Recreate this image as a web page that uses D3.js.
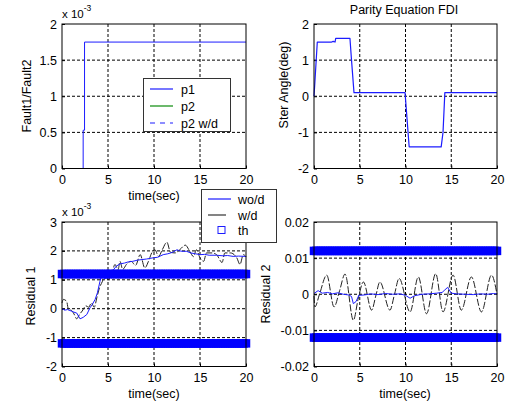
<!DOCTYPE html>
<html><head><meta charset="utf-8">
<script src="https://cdn.jsdelivr.net/npm/d3@7"></script>
<style>
body{margin:0;background:#fff;}
text{font-family:"Liberation Sans",Arial,Helvetica,sans-serif;fill:#000;}
</style></head>
<body>
<svg id="c" width="510" height="407"></svg>
<script>
// ---- data ----
const xTicks = [0, 5, 10, 15, 20];
// top-left: Fault1/Fault2 (x 1e-3)
const p1T = [0, 2.3, 2.3, 2.45, 2.45, 20];
const p1V = [0, 0, 0.53, 0.53, 1.75, 1.75];
const p2T = [0, 20];
const p2V = [0, 0];
const p2wdT = [0, 20];
const p2wdV = [0, 0];
const tlYTicks = [0, 0.5, 1, 1.5, 2];
const tlYLabels = ["0", "0.5", "1", "1.5", "2"];
// top-right: steering angle (deg)
const sterT = [0, 0.1, 0.36, 1.93, 2.1, 2.3, 2.37, 3.93, 4.1, 4.37, 9.95, 10.4, 13.9, 14.1, 14.3, 20];
const sterV = [0, 0.4, 1.5, 1.5, 1.52, 1.5, 1.6, 1.6, 1.0, 0.1, 0.1, -1.4, -1.4, -1.0, 0.1, 0.1];
const trYTicks = [-2, -1, 0, 1, 2];
// bottom-left: residual 1 (x 1e-3)
const r1woT = [0, 0.3, 0.6, 1.0, 1.3, 1.6, 1.96, 2.3, 2.7, 3.04, 3.3, 3.6, 3.85, 4.13, 4.3, 4.6, 4.8, 5.2, 5.6, 5.9, 6.3, 6.8, 7.2, 7.7, 8.2, 8.7, 9.2, 9.9, 10.4, 11.0, 11.5, 12.0, 12.5, 12.8, 13.2, 13.5, 14.0, 14.5, 15.0, 15.5, 16.0, 16.8, 17.5, 18.0, 18.6, 19.2, 19.9, 20];
const r1woV = [0, -0.05, -0.03, -0.08, -0.12, -0.15, -0.35, -0.3, -0.2, 0.03, 0.15, 0.32, 0.55, 0.95, 1.13, 1.05, 1.06, 1.2, 1.35, 1.47, 1.55, 1.58, 1.62, 1.64, 1.68, 1.7, 1.72, 1.76, 1.78, 1.87, 1.9, 1.95, 2.04, 2.0, 1.98, 1.99, 1.93, 1.9, 1.87, 1.88, 1.85, 1.85, 1.83, 1.84, 1.81, 1.82, 1.81, 1.8];
const r1wdT = [0, 0.15, 0.5, 0.7, 1.0, 1.3, 1.6, 1.9, 2.2, 2.6, 2.9, 3.2, 3.5, 3.8, 4.1, 4.4, 4.7, 5.0, 5.4, 5.76, 6.1, 6.3, 6.6, 7.0, 7.5, 8.0, 8.5, 9.0, 9.4, 9.75, 10.1, 10.5, 10.9, 11.4, 11.8, 12.3, 12.8, 13.4, 13.9, 14.3, 14.6, 15.0, 15.4, 15.7, 16.3, 16.8, 17.4, 17.7, 18.3, 19.0, 19.35, 19.7, 20];
const r1wdV = [0.2, 0.32, 0.26, -0.02, -0.05, -0.18, -0.35, -0.2, -0.08, 0.1, 0.05, 0.2, 0.05, 0.4, 0.75, 0.95, 1.25, 1.0, 1.2, 1.53, 1.35, 1.64, 1.36, 1.53, 1.64, 1.5, 1.87, 1.41, 1.64, 1.93, 2.04, 1.81, 2.04, 2.3, 1.95, 1.93, 2.04, 2.2, 1.98, 1.8, 2.04, 1.76, 1.64, 1.93, 1.93, 1.87, 1.6, 1.93, 1.93, 1.76, 1.53, 1.87, 1.8];
const r1Th = [1.2, -1.2];
const blYTicks = [-2, -1, 0, 1, 2, 3];
// bottom-right: residual 2
const r2woT = [0, 0.45, 0.9, 1.5, 2.0, 2.6, 3.2, 3.8, 4.1, 4.3, 4.6, 4.9, 5.5, 6.2, 7.0, 7.8, 8.6, 9.4, 10.0, 10.5, 11.0, 11.8, 12.6, 13.4, 14.0, 14.3, 14.6, 15.0, 15.6, 16.5, 17.4, 18.2, 19.0, 19.6, 20];
const r2woV = [0.0002, 0.001, 0.0003, 0.0005, 0.0001, 0.0004, 0, -0.0002, -0.0006, -0.0026, -0.002, -0.0003, -0.0002, 0.0001, -0.0001, 0.0002, 0, 0.0001, -0.0003, -0.0011, -0.0004, 0, 0.0001, 0.0003, 0.0005, 0.0012, 0.0019, 0.0003, 0.0001, 0, -0.0001, 0.0001, 0, 0.0002, 0.0001];
const r2wdT = [0, 0.1, 0.6, 1.39, 2.19, 2.8, 3.39, 4.3, 4.85, 5.4, 6.3, 6.75, 7.2, 8.3, 8.8, 9.3, 10.5, 11.4, 12.3, 13.3, 14.1, 15.2, 16.1, 17.2, 18.3, 19.4, 20];
const r2wdV = [-0.0005, -0.0035, 0, 0.0053, -0.0035, 0.001, 0.0056, -0.0072, -0.001, 0.0034, -0.0044, -0.0005, 0.0034, -0.0044, 0, 0.0044, -0.0049, 0.0048, -0.0054, 0.0057, -0.0049, 0.0053, -0.0044, 0.0048, -0.0049, 0.0053, 0];
const r2Th = [0.012, -0.012];
const brYTicks = [-0.02, -0.01, 0, 0.01, 0.02];
const brYLabels = ["-0.02", "-0.01", "0", "0.01", "0.02"];

// ---- drawing ----
const svg = d3.select("#c");
const BLUE = "#1c1cff", BAND = "#0000ff", GREEN = "#0a8a0a";
const FS = 12.5;

function panel(o) {
  const x = d3.scaleLinear().domain([0, 20]).range([o.x0, o.x1]);
  const y = d3.scaleLinear().domain(o.yDom).range([o.y1, o.y0]);
  const g = svg.append("g");
  xTicks.slice(1, -1).forEach(t => g.append("line").attr("x1", x(t)).attr("x2", x(t)).attr("y1", o.y0).attr("y2", o.y1)
    .attr("stroke", "#000").attr("stroke-width", 1).attr("stroke-dasharray", "3,2"));
  o.yTicks.slice(1, -1).forEach(t => g.append("line").attr("x1", o.x0).attr("x2", o.x1).attr("y1", y(t)).attr("y2", y(t))
    .attr("stroke", "#000").attr("stroke-width", 1).attr("stroke-dasharray", "3,2"));
  const ax = d3.axisBottom(x).tickValues(xTicks).tickSize(-3).tickPadding(6).tickFormat(d3.format("d"));
  const gx = g.append("g").attr("transform", `translate(0,${o.y1})`).call(ax);
  const ay = d3.axisLeft(y).tickValues(o.yTicks).tickSize(-3).tickPadding(5).tickFormat((d, i) => o.yLabels[i]);
  const gy = g.append("g").attr("transform", `translate(${o.x0},0)`).call(ay);
  [gx, gy].forEach(a => {
    a.select(".domain").remove();
    a.selectAll("text").attr("font-family", "Liberation Sans, Arial, sans-serif").attr("font-size", FS).attr("fill", "#000");
    a.selectAll("line").attr("stroke", "#000");
  });
  gx.selectAll("text").attr("dy", "0.72em");
  return {x, y, g};
}

function box(p, o) {
  svg.append("rect").attr("x", o.x0).attr("y", o.y0).attr("width", o.x1 - o.x0).attr("height", o.y1 - o.y0)
    .attr("fill", "none").attr("stroke", "#000").attr("stroke-width", 1);
}

function line(p, T, V, color, opts = {}) {
  const gen = d3.line().x(d => p.x(d[0])).y(d => p.y(d[1])).curve(opts.curve || d3.curveLinear);
  svg.append("path").datum(T.map((t, i) => [t, V[i]])).attr("d", gen)
    .attr("fill", "none").attr("stroke", color).attr("stroke-width", opts.w || 1)
    .attr("stroke-dasharray", opts.dash || null).attr("stroke-linejoin", "round");
}

function threshold(p, val) {
  const pts = d3.range(0, 20.0001, 0.25);
  svg.append("g").selectAll("rect").data(pts).join("rect")
    .attr("x", d => p.x(d) - 4.25).attr("y", p.y(val) - 4.25).attr("width", 8.5).attr("height", 8.5)
    .attr("fill", BAND);
}

function ylabel(text, x, y) {
  svg.append("text").attr("transform", `translate(${x},${y}) rotate(-90)`).attr("text-anchor", "middle")
    .attr("font-size", FS).text(text);
}
function xlabel(text, x, y) {
  svg.append("text").attr("x", x).attr("y", y).attr("text-anchor", "middle").attr("font-size", FS).text(text);
}
function exponent(x, y) {
  const t = svg.append("text").attr("x", x).attr("y", y).attr("font-size", 11.5);
  t.append("tspan").text("x 10");
  t.append("tspan").attr("dy", -7).attr("font-size", 8.5).text("-3");
}

// top-left
const oTL = {x0: 62, x1: 246, y0: 24, y1: 168.5, yDom: [0, 2], yTicks: tlYTicks, yLabels: tlYLabels};
const pTL = panel(oTL);
line(pTL, p2T, p2V, GREEN, {w: 1.2});
line(pTL, p2wdT, p2wdV, BLUE, {dash: "6,5"});
line(pTL, p1T, p1V, BLUE);
box(pTL, oTL);
exponent(62, 18);
ylabel("Fault1/Fault2", 31, 96);
xlabel("time(sec)", 154, 200);

// top-right
const oTR = {x0: 314, x1: 497, y0: 24, y1: 168.5, yDom: [-2, 2], yTicks: trYTicks, yLabels: trYTicks.map(String)};
const pTR = panel(oTR);
line(pTR, sterT, sterV, BLUE, {w: 1.2});
box(pTR, oTR);
ylabel("Ster Angle(deg)", 288, 85);
svg.append("text").attr("x", 404).attr("y", 14).attr("text-anchor", "middle").attr("font-size", FS).text("Parity Equation FDI");

// bottom-left
const oBL = {x0: 62, x1: 246, y0: 222, y1: 366.5, yDom: [-2, 3], yTicks: blYTicks, yLabels: blYTicks.map(String)};
const pBL = panel(oBL);
line(pBL, r1wdT, r1wdV, "#222", {curve: d3.curveMonotoneX, dash: "7,2"});
line(pBL, r1woT, r1woV, BLUE);
r1Th.forEach(v => threshold(pBL, v));
box(pBL, oBL);
exponent(62, 216);
ylabel("Residual 1", 35, 296);
xlabel("time(sec)", 154, 398);

// bottom-right
const oBR = {x0: 314, x1: 497, y0: 222, y1: 366.5, yDom: [-0.02, 0.02], yTicks: brYTicks, yLabels: brYLabels};
const pBR = panel(oBR);
line(pBR, r2wdT, r2wdV, "#222", {curve: d3.curveMonotoneX, dash: "7,2"});
line(pBR, r2woT, r2woV, BLUE);
r2Th.forEach(v => threshold(pBR, v));
box(pBR, oBR);
ylabel("Residual 2", 270, 294);
xlabel("time(sec)", 405, 398);

// legend 1
const lg1 = svg.append("g");
lg1.append("rect").attr("x", 143.5).attr("y", 78.5).attr("width", 87).attr("height", 53).attr("fill", "#fff").attr("stroke", "#333");
const lg1Items = [{n: "p1", c: BLUE, d: null}, {n: "p2", c: GREEN, d: null}, {n: "p2 w/d", c: BLUE, d: "5,5"}];
lg1Items.forEach((it, i) => {
  const yy = 89 + i * 17;
  lg1.append("line").attr("x1", 150).attr("x2", 173).attr("y1", yy).attr("y2", yy).attr("stroke", it.c).attr("stroke-width", 1.2).attr("stroke-dasharray", it.d);
  lg1.append("text").attr("x", 181).attr("y", yy + 5).attr("font-size", FS).text(it.n);
});

// legend 2
const lg2 = svg.append("g");
lg2.append("rect").attr("x", 201.5).attr("y", 189.5).attr("width", 75).attr("height", 53).attr("fill", "#fff").attr("stroke", "#333");
lg2.append("line").attr("x1", 208).attr("x2", 231).attr("y1", 199).attr("y2", 199).attr("stroke", BLUE).attr("stroke-width", 1.2);
lg2.append("line").attr("x1", 208).attr("x2", 226).attr("y1", 215).attr("y2", 215).attr("stroke", "#333").attr("stroke-width", 1.2);
lg2.append("rect").attr("x", 218).attr("y", 226.5).attr("width", 7).attr("height", 7).attr("fill", "none").attr("stroke", BLUE);
[["wo/d", 199.5], ["w/d", 215.5], ["th", 230.5]].forEach(([n, yy]) =>
  lg2.append("text").attr("x", 238).attr("y", yy + 4.5).attr("font-size", FS).text(n));
</script>
</body></html>
